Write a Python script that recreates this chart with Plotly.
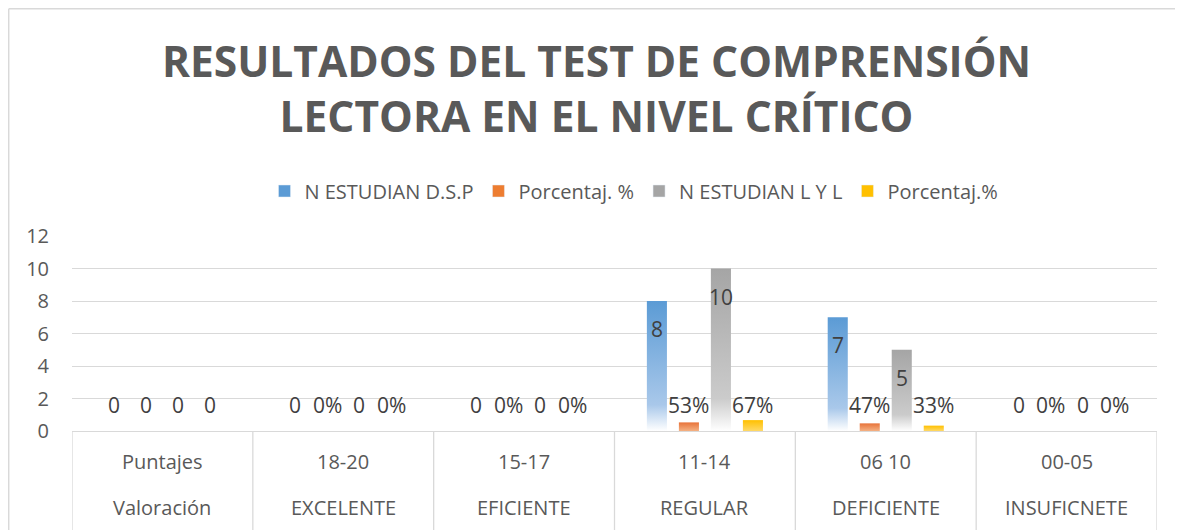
import plotly.graph_objects as go

# ---------------- data ----------------
puntajes = ["Puntajes", "18-20", "15-17", "11-14", "06 10", "00-05"]
valoracion = ["Valoración", "EXCELENTE", "EFICIENTE", "REGULAR", "DEFICIENTE", "INSUFICNETE"]
series_names = ["N ESTUDIAN D.S.P", "Porcentaj. %", "N ESTUDIAN L Y L", "Porcentaj.%"]
n_dsp = [0, 0, 0, 8, 7, 0]
pct_dsp = [0, 0, 0, 0.53, 0.47, 0]
n_lyl = [0, 0, 0, 10, 5, 0]
pct_lyl = [0, 0, 0, 0.67, 0.33, 0]
n_dsp_labels = ["0", "0", "0", "8", "7", "0"]
pct_dsp_labels = ["0", "0%", "0%", "53%", "47%", "0%"]
n_lyl_labels = ["0", "0", "0", "10", "5", "0"]
pct_lyl_labels = ["0", "0%", "0%", "67%", "33%", "0%"]
y_ticks = [0, 2, 4, 6, 8, 10, 12]

# ---------------- style ----------------
OFF = 8  # page body margin of the html page
W, H = 1183 - OFF, 530 - OFF
L = 72 - OFF
T = 236 - OFF
PR = 1157 - OFF  # plot right edge (fig coords)
PB = 431 - OFF   # plot bottom edge (fig coords)
R, B = W - PR, H - PB
PW, PH = W - L - R, H - T - B
FONT = "Open Sans"
GRID = "#D9D9D9"
TXT = "#595959"
LBL = "#404040"

colors = ["#5B9BD5", "#ED7D31", "#A5A5A5", "#FFC000"]
scales = [
    [[0, "#ffffff"], [0.2, "#a9c8ea"], [1, "#5b9bd5"]],
    [[0, "#f4b183"], [1, "#e8733a"]],
    [[0, "#ffffff"], [0.2, "#cbcbcb"], [1, "#a5a5a5"]],
    [[0, "#ffd966"], [1, "#ffc000"]],
]
values = [n_dsp, pct_dsp, n_lyl, pct_lyl]
labels = [n_dsp_labels, pct_dsp_labels, n_lyl_labels, pct_lyl_labels]

slot = 0.177      # slot width in category units
bar_w = 0.111     # bar width in category units
ppu = PH / 12.0   # pixels per y-unit


def px_x(p):
    """reference page pixel x -> paper coordinate"""
    return (p - OFF - L) / PW


def px_y(p):
    """reference page pixel y -> paper coordinate"""
    return (H - B - (p - OFF)) / PH


fig = go.Figure()

annotations = []
for k, (name, vals, labs, col, cs) in enumerate(zip(series_names, values, labels, colors, scales)):
    off = (k - 1.5) * slot
    for i, v in enumerate(vals):
        xc = i + off
        if v > 0:
            fig.add_trace(go.Scatter(
                x=[xc - bar_w / 2, xc + bar_w / 2, xc + bar_w / 2, xc - bar_w / 2, xc - bar_w / 2],
                y=[0, 0, v, v, 0],
                mode="lines", fill="toself",
                fillgradient=dict(type="vertical", colorscale=cs, start=0, stop=v),
                line=dict(width=0), hoverinfo="skip", showlegend=False,
            ))
        if v * ppu > 40:
            annotations.append(dict(x=xc, y=v, xref="x", yref="y", text=labs[i], showarrow=False,
                                    yanchor="middle", yshift=-28,
                                    font=dict(family=FONT, size=21, color=LBL)))
        else:
            annotations.append(dict(x=xc, y=0, xref="x", yref="y", text=labs[i], showarrow=False,
                                    yanchor="middle", yshift=26,
                                    font=dict(family=FONT, size=21, color=LBL)))
    # legend entry
    fig.add_trace(go.Bar(x=[None], y=[None], name=name, marker=dict(color=col)))

# category table labels
for i, (p, v) in enumerate(zip(puntajes, valoracion)):
    annotations.append(dict(x=i, y=px_y(461), xref="x", yref="paper", text=p, showarrow=False,
                            yanchor="middle", font=dict(family=FONT, size=20, color=TXT)))
    annotations.append(dict(x=i, y=px_y(507), xref="x", yref="paper", text=v, showarrow=False,
                            yanchor="middle", font=dict(family=FONT, size=20, color=TXT)))

shapes = []
# table vertical lines
for i in range(len(puntajes) + 1):
    shapes.append(dict(type="line", xref="x", yref="paper", x0=i - 0.5, x1=i - 0.5,
                       y0=0, y1=px_y(535), line=dict(color=GRID, width=1.3)))
# chart border (top + left)
shapes.append(dict(type="line", xref="paper", yref="paper", x0=px_x(8.7), x1=px_x(1190),
                   y0=px_y(8.7), y1=px_y(8.7), line=dict(color=GRID, width=1.5)))
shapes.append(dict(type="line", xref="paper", yref="paper", x0=px_x(8.7), x1=px_x(8.7),
                   y0=px_y(8.7), y1=px_y(540), line=dict(color=GRID, width=1.5)))

fig.update_layout(
    width=W, height=H,
    margin=dict(l=L, r=R, t=T, b=B),
    paper_bgcolor="white", plot_bgcolor="white",
    title=dict(text="<b>RESULTADOS DEL TEST DE COMPRENSIÓN<br>LECTORA EN EL NIVEL CRÍTICO</b>",
               x=(596.5 - OFF) / W, xanchor="center", xref="container",
               y=1 - (77 - OFF) / H, yanchor="middle", yref="container",
               font=dict(family=FONT, size=42.5, color=TXT)),
    legend=dict(orientation="h", x=px_x(634), xanchor="center", y=px_y(191), yanchor="middle",
                font=dict(family=FONT, size=20, color=TXT), bgcolor="rgba(0,0,0,0)",
                itemwidth=30, tracegroupgap=0),
    xaxis=dict(range=[-0.5, 5.5], showgrid=False, zeroline=False, showticklabels=False,
               showline=False, ticks="", fixedrange=True),
    yaxis=dict(range=[0, 12], tickvals=y_ticks, showgrid=True, gridcolor=GRID, gridwidth=1.3,
               zeroline=True, zerolinecolor=GRID, zerolinewidth=1.3, showline=False,
               ticklabelstandoff=22,
               tickfont=dict(family=FONT, size=20, color=TXT)),
    annotations=annotations,
    shapes=shapes,
    showlegend=True,
    barmode="group",
)

fig.write_html("out.html")
